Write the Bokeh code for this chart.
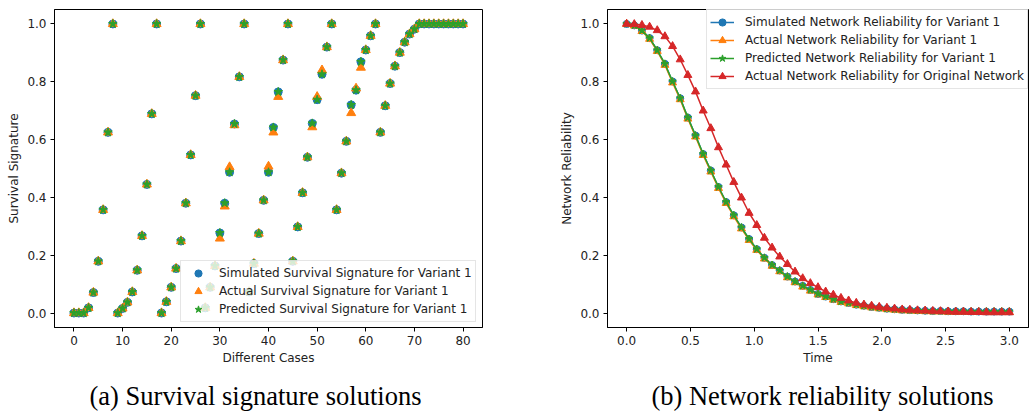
from bokeh.plotting import figure
from bokeh.layouts import row, column
from bokeh.models import Range1d, FixedTicker, NumeralTickFormatter, Legend, LegendItem
from bokeh.core.properties import value
from bokeh.embed import file_html
from bokeh.resources import INLINE

# ---------------- data: (a) survival signature ----------------
cases = list(range(81))
sim_signature = [
    0.000, 0.000, 0.000, 0.018, 0.071, 0.179, 0.357, 0.625, 1.000,
    0.000, 0.016, 0.037, 0.073, 0.148, 0.267, 0.445, 0.689, 1.000,
    0.000, 0.039, 0.089, 0.154, 0.249, 0.380, 0.547, 0.752, 1.000,
    0.018, 0.089, 0.163, 0.277, 0.380, 0.487, 0.654, 0.817, 1.000,
    0.073, 0.171, 0.275, 0.390, 0.487, 0.642, 0.765, 0.875, 1.000,
    0.179, 0.298, 0.416, 0.539, 0.656, 0.738, 0.826, 0.920, 1.000,
    0.357, 0.484, 0.594, 0.720, 0.771, 0.869, 0.910, 0.959, 1.000,
    0.625, 0.717, 0.794, 0.854, 0.901, 0.937, 0.965, 0.982, 1.000,
    1.000, 1.000, 1.000, 1.000, 1.000, 1.000, 1.000, 1.000, 1.000,
]
act_signature = [
    0.000, 0.000, 0.000, 0.018, 0.071, 0.179, 0.357, 0.625, 1.000,
    0.000, 0.016, 0.037, 0.073, 0.148, 0.267, 0.445, 0.689, 1.000,
    0.000, 0.039, 0.089, 0.154, 0.249, 0.380, 0.547, 0.752, 1.000,
    0.018, 0.089, 0.163, 0.258, 0.369, 0.505, 0.650, 0.817, 1.000,
    0.073, 0.171, 0.275, 0.390, 0.507, 0.625, 0.748, 0.875, 1.000,
    0.179, 0.298, 0.416, 0.539, 0.643, 0.748, 0.840, 0.920, 1.000,
    0.357, 0.484, 0.594, 0.692, 0.777, 0.849, 0.910, 0.959, 1.000,
    0.625, 0.717, 0.794, 0.854, 0.901, 0.937, 0.965, 0.982, 1.000,
    1.000, 1.000, 1.000, 1.000, 1.000, 1.000, 1.000, 1.000, 1.000,
]
pred_signature = [
    0.000, 0.000, 0.000, 0.018, 0.071, 0.179, 0.357, 0.625, 1.000,
    0.000, 0.016, 0.037, 0.073, 0.148, 0.267, 0.445, 0.689, 1.000,
    0.000, 0.039, 0.089, 0.154, 0.249, 0.380, 0.547, 0.752, 1.000,
    0.018, 0.089, 0.163, 0.277, 0.380, 0.487, 0.654, 0.817, 1.000,
    0.073, 0.171, 0.275, 0.390, 0.487, 0.642, 0.765, 0.875, 1.000,
    0.179, 0.298, 0.416, 0.539, 0.656, 0.738, 0.826, 0.920, 1.000,
    0.357, 0.484, 0.594, 0.720, 0.771, 0.869, 0.910, 0.959, 1.000,
    0.625, 0.717, 0.794, 0.854, 0.901, 0.937, 0.965, 0.982, 1.000,
    1.000, 1.000, 1.000, 1.000, 1.000, 1.000, 1.000, 1.000, 1.000,
]

# ---------------- data: (b) network reliability ----------------
time = [0.00, 0.06, 0.12, 0.18, 0.24, 0.30, 0.36, 0.42, 0.48, 0.54,
        0.60, 0.66, 0.72, 0.78, 0.84, 0.90, 0.96, 1.02, 1.08, 1.14,
        1.20, 1.26, 1.32, 1.38, 1.44, 1.50, 1.56, 1.62, 1.68, 1.74,
        1.80, 1.86, 1.92, 1.98, 2.04, 2.10, 2.16, 2.22, 2.28, 2.34,
        2.40, 2.46, 2.52, 2.58, 2.64, 2.70, 2.76, 2.82, 2.88, 2.94, 3.00]
sim_rel = [1.000, 0.995, 0.977, 0.951, 0.909, 0.862, 0.801, 0.743, 0.676, 0.614,
           0.550, 0.493, 0.436, 0.384, 0.338, 0.296, 0.256, 0.221, 0.191, 0.166,
           0.147, 0.126, 0.109, 0.094, 0.080, 0.066, 0.057, 0.048, 0.040, 0.035,
           0.029, 0.025, 0.021, 0.018, 0.015, 0.013, 0.011, 0.010, 0.009, 0.008,
           0.007, 0.007, 0.006, 0.006, 0.006, 0.005, 0.005, 0.005, 0.005, 0.005, 0.005]
act_rel = [1.000, 0.994, 0.975, 0.948, 0.906, 0.858, 0.797, 0.739, 0.672, 0.610,
           0.546, 0.489, 0.432, 0.380, 0.334, 0.292, 0.252, 0.218, 0.188, 0.163,
           0.144, 0.123, 0.106, 0.091, 0.077, 0.064, 0.055, 0.046, 0.038, 0.033,
           0.027, 0.023, 0.019, 0.016, 0.013, 0.011, 0.009, 0.008, 0.007, 0.006,
           0.005, 0.005, 0.004, 0.004, 0.004, 0.003, 0.003, 0.003, 0.003, 0.003, 0.003]
pred_rel = [1.000, 0.995, 0.977, 0.951, 0.909, 0.862, 0.801, 0.743, 0.676, 0.614,
            0.550, 0.493, 0.436, 0.384, 0.338, 0.296, 0.256, 0.221, 0.191, 0.166,
            0.147, 0.126, 0.109, 0.094, 0.080, 0.066, 0.057, 0.048, 0.040, 0.035,
            0.029, 0.025, 0.021, 0.018, 0.015, 0.013, 0.011, 0.010, 0.009, 0.008,
            0.007, 0.007, 0.006, 0.006, 0.006, 0.005, 0.005, 0.005, 0.005, 0.005, 0.005]
orig_rel = [1.000, 0.999, 0.996, 0.990, 0.978, 0.957, 0.923, 0.877, 0.823, 0.766,
            0.700, 0.639, 0.573, 0.513, 0.453, 0.399, 0.346, 0.304, 0.260, 0.226,
            0.195, 0.169, 0.143, 0.120, 0.103, 0.089, 0.074, 0.063, 0.052, 0.043,
            0.035, 0.029, 0.025, 0.021, 0.018, 0.015, 0.012, 0.011, 0.009, 0.008,
            0.007, 0.006, 0.005, 0.004, 0.004, 0.003, 0.003, 0.002, 0.002, 0.002, 0.002]

x_ticks_a = [0, 10, 20, 30, 40, 50, 60, 70, 80]
x_ticks_b = [0.0, 0.5, 1.0, 1.5, 2.0, 2.5, 3.0]
y_ticks = [0.0, 0.2, 0.4, 0.6, 0.8, 1.0]

labels_a = ["Simulated Survival Signature for Variant 1",
            "Actual Survival Signature for Variant 1",
            "Predicted Survival Signature for Variant 1"]
labels_b = ["Simulated Network Reliability for Variant 1",
            "Actual Network Reliability for Variant 1",
            "Predicted Network Reliability for Variant 1",
            "Actual Network Reliability for Original Network"]
caption_a = "(a) Survival signature solutions"
caption_b = "(b) Network reliability solutions"

BLUE, ORANGE, GREEN, RED = "#1f77b4", "#ff7f0e", "#2ca02c", "#d62728"
FONT = "DejaVu Sans"
FS = "12px"
TXT = "#222222"


def style(p, xticks, xfmt, xlabel, ylabel):
    p.grid.visible = False
    p.outline_line_color = "black"
    p.outline_line_width = 1
    p.outline_line_alpha = 1
    p.background_fill_color = "white"
    p.border_fill_color = "white"
    for ax in (p.xaxis[0], p.yaxis[0]):
        ax.major_tick_in = 0
        ax.major_tick_out = 4
        ax.minor_tick_line_color = None
        ax.axis_line_color = "black"
        ax.major_tick_line_color = "black"
        ax.major_label_text_font = FONT
        ax.major_label_text_font_size = FS
        ax.major_label_text_color = TXT
        ax.axis_label_text_font = FONT
        ax.axis_label_text_font_size = FS
        ax.axis_label_text_font_style = "normal"
        ax.axis_label_text_color = TXT
        ax.major_label_standoff = 4
        ax.axis_label_standoff = 3
    p.xaxis[0].ticker = FixedTicker(ticks=xticks)
    p.xaxis[0].formatter = NumeralTickFormatter(format=xfmt)
    p.yaxis[0].ticker = FixedTicker(ticks=y_ticks)
    p.yaxis[0].formatter = NumeralTickFormatter(format="0.0")
    p.xaxis[0].axis_label = xlabel
    p.yaxis[0].axis_label = ylabel


def style_legend(lg, gw, standoff):
    lg.label_text_font = FONT
    lg.label_text_font_size = FS
    lg.label_text_color = TXT
    lg.glyph_width = gw
    lg.glyph_height = 18
    lg.label_height = 18
    lg.label_standoff = standoff
    lg.spacing = 0
    lg.padding = 3
    lg.margin = 0
    lg.border_line_color = "#cccccc"
    lg.border_line_width = 1
    lg.background_fill_color = "white"
    lg.background_fill_alpha = 0.8


def caption_fig(text, cx):
    c = figure(width=515, height=50, output_backend="svg", toolbar_location=None,
               x_range=Range1d(0, 515), y_range=Range1d(0, 50),
               min_border=0, x_axis_type=None, y_axis_type=None)
    c.grid.visible = False
    c.outline_line_color = None
    c.background_fill_color = "white"
    c.border_fill_color = "white"
    c.text(x=[cx], y=[25], text=[text], text_align="center", text_baseline="middle",
           text_font=value("Liberation Serif"), text_font_size="26.5px", text_color="black")
    return c


# ---------------- (a) ----------------
p1 = figure(width=515, height=370, output_backend="svg", toolbar_location=None,
            x_range=Range1d(-4, 84), y_range=Range1d(-0.05, 1.05),
            min_border_left=54, min_border_right=33, min_border_top=9, min_border_bottom=43)
style(p1, x_ticks_a, "0", "Different Cases", "Survival Signature")
ra1 = p1.scatter(cases, sim_signature, marker="circle", size=8, color=BLUE)
ra2 = p1.scatter(cases, act_signature, marker="triangle", size=9, color=ORANGE)
ra3 = p1.scatter(cases, pred_signature, marker="star", size=9, color=GREEN)
lg1 = Legend(items=[LegendItem(label=labels_a[0], renderers=[ra1]),
                    LegendItem(label=labels_a[1], renderers=[ra2]),
                    LegendItem(label=labels_a[2], renderers=[ra3])],
             location=(126, 5))
style_legend(lg1, 28, 7)
p1.add_layout(lg1)

# ---------------- (b) ----------------
p2 = figure(width=515, height=370, output_backend="svg", toolbar_location=None,
            x_range=Range1d(-0.15, 3.15), y_range=Range1d(-0.05, 1.05),
            min_border_left=92, min_border_right=2, min_border_top=8, min_border_bottom=43)
style(p2, x_ticks_b, "0.0", "Time", "Network Reliability")
items = []
for ys, col, mk, sz, lab in [(sim_rel, BLUE, "circle", 7, labels_b[0]),
                             (act_rel, ORANGE, "triangle", 8, labels_b[1]),
                             (pred_rel, GREEN, "star", 8, labels_b[2]),
                             (orig_rel, RED, "triangle", 8, labels_b[3])]:
    rl = p2.line(time, ys, color=col, line_width=1.5)
    rs = p2.scatter(time, ys, marker=mk, size=sz, color=col)
    items.append(LegendItem(label=lab, renderers=[rl, rs]))
lg2 = Legend(items=items, location=(99, 238))
style_legend(lg2, 24, 11)
p2.add_layout(lg2)

c1 = caption_fig(caption_a, 255)
c2 = caption_fig(caption_b, 307)

layout = column(row(p1, p2), row(c1, c2))
open("out.html", "w").write(file_html(layout, INLINE))
